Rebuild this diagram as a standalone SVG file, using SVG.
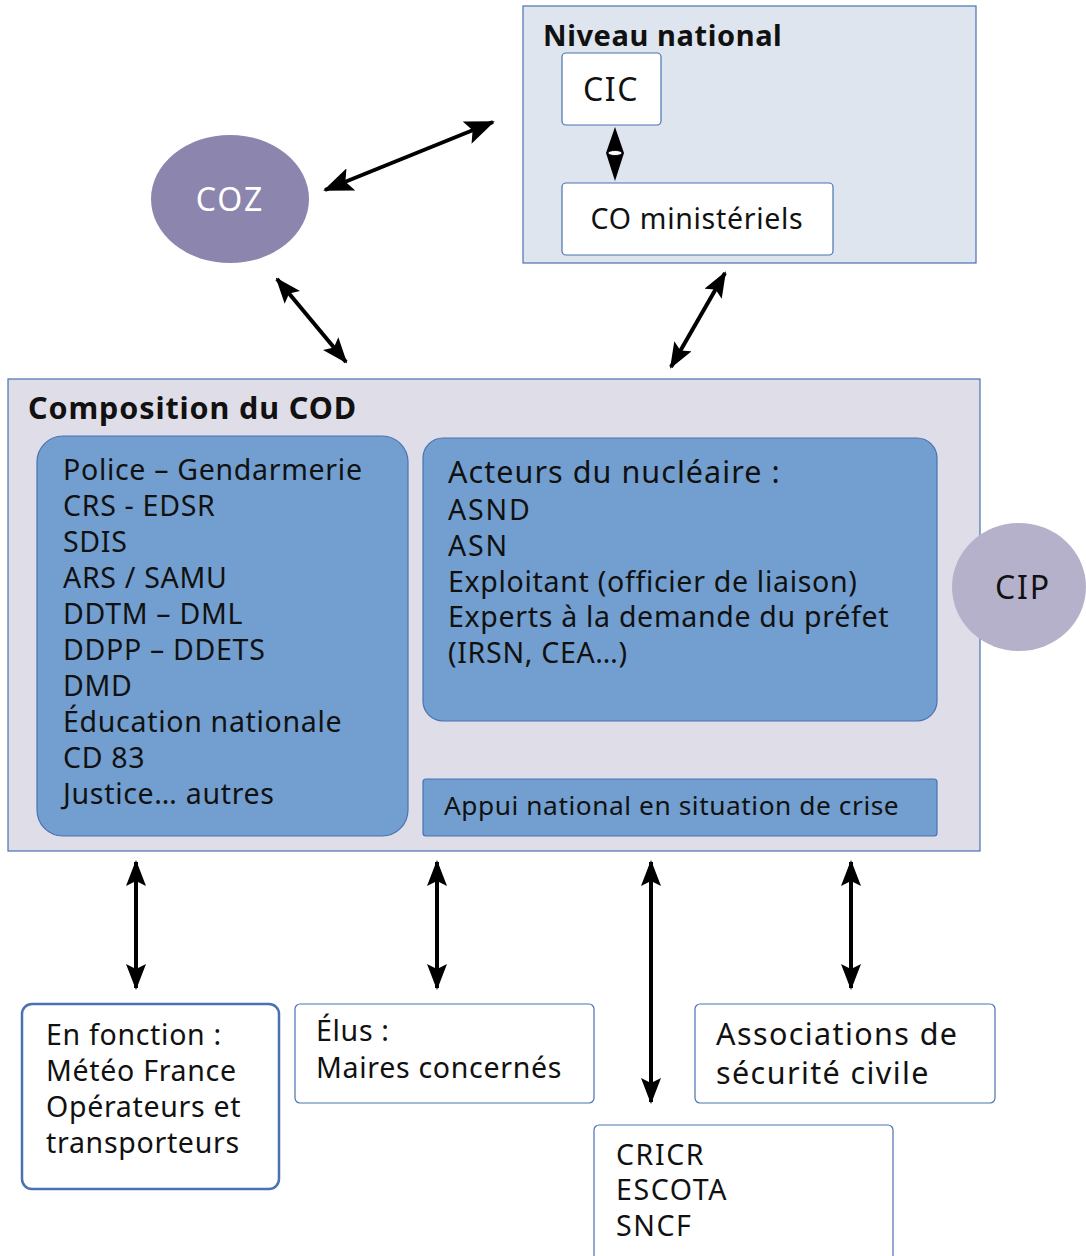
<svg xmlns="http://www.w3.org/2000/svg" width="1086" height="1256" viewBox="0 0 1086 1256">
  <style>
    text { font-family: "Noto Sans", "Open Sans", "Liberation Sans", sans-serif; fill: #111; }
    .title { font-weight: bold; font-size: 29px; letter-spacing: 0.6px; }
    .marianne { font-size: 28.5px; letter-spacing: 0.7px; }
    .white { fill: #ffffff; stroke: #4a72b0; stroke-width: 1.2; }
    .blue { fill: #729fcf; stroke: #4a72b0; stroke-width: 1.2; }
    .link { stroke: #000; stroke-width: 4; fill: none; marker-start: url(#head); marker-end: url(#head); }
  </style>
  <defs>
    <marker id="head" viewBox="0 0 26 20" refX="24" refY="10" markerWidth="26" markerHeight="20" markerUnits="userSpaceOnUse" orient="auto-start-reverse">
      <path d="M0,0 L26,10 L0,20 L5,10 Z" fill="#000"/>
    </marker>
    <marker id="headBig" viewBox="0 0 30 24" refX="28" refY="12" markerWidth="30" markerHeight="24" markerUnits="userSpaceOnUse" orient="auto-start-reverse">
      <path d="M0,0 L30,12 L0,24 L6,12 Z" fill="#000"/>
    </marker>
  </defs>

  <!-- National level -->
  <g id="niveau-national">
    <rect x="523" y="6" width="453" height="257" fill="#dfe5ef" stroke="#4a72b0" stroke-width="1.2"/>
    <text class="title" x="543" y="46">Niveau national</text>
  </g>
  <g id="cic">
    <rect class="white" x="562" y="53" width="99" height="72" rx="4"/>
    <text x="611" y="101" style="font-size:32px;letter-spacing:1.5px" text-anchor="middle">CIC</text>
  </g>
  <g id="co-ministeriels">
    <rect class="white" x="562" y="183" width="271" height="72" rx="4"/>
    <text class="marianne" x="697" y="229" text-anchor="middle">CO ministériels</text>
  </g>

  <!-- COZ -->
  <g id="coz">
    <ellipse cx="230" cy="199" rx="79" ry="64" fill="#8c85ad"/>
    <text x="230" y="211" style="font-size:32px;letter-spacing:2px;fill:#ffffff" text-anchor="middle">COZ</text>
  </g>

  <!-- COD -->
  <g id="cod">
    <rect x="8" y="379" width="972" height="472" fill="#dfdde8" stroke="#4a72b0" stroke-width="1.2"/>
    <text class="title" x="28" y="419" style="font-size:30.5px;letter-spacing:0.9px">Composition du COD</text>
  </g>
  <g id="services">
    <rect class="blue" x="37" y="436" width="371" height="400" rx="26"/>
    <text class="marianne" x="63" y="480">Police – Gendarmerie</text>
    <text class="marianne" x="63" y="516">CRS - EDSR</text>
    <text class="marianne" x="63" y="552">SDIS</text>
    <text class="marianne" x="63" y="588">ARS / SAMU</text>
    <text class="marianne" x="63" y="624">DDTM – DML</text>
    <text class="marianne" x="63" y="660">DDPP – DDETS</text>
    <text class="marianne" x="63" y="696">DMD</text>
    <text class="marianne" x="63" y="732">Éducation nationale</text>
    <text class="marianne" x="63" y="768">CD 83</text>
    <text class="marianne" x="63" y="804">Justice… autres</text>
  </g>
  <g id="nucleaire">
    <rect class="blue" x="423" y="438" width="514" height="283" rx="20"/>
    <text class="marianne" x="448" y="483" style="font-size:30.5px;letter-spacing:1.05px">Acteurs du nucléaire :</text>
    <text class="marianne" x="448" y="520" style="letter-spacing:1.8px">ASND</text>
    <text class="marianne" x="448" y="556" style="letter-spacing:1.8px">ASN</text>
    <text class="marianne" x="448" y="592">Exploitant (officier de liaison)</text>
    <text class="marianne" x="448" y="627">Experts à la demande du préfet</text>
    <text class="marianne" x="448" y="663">(IRSN, CEA…)</text>
  </g>
  <g id="appui">
    <rect class="blue" x="423" y="779" width="514" height="57" rx="3"/>
    <text class="marianne" x="444" y="815" style="font-size:26.3px;letter-spacing:0.55px">Appui national en situation de crise</text>
  </g>
  <g id="cip">
    <ellipse cx="1019" cy="587" rx="67" ry="64" fill="#b6b1cb"/>
    <text class="marianne" x="1023" y="599" style="font-size:32px;letter-spacing:1.8px" text-anchor="middle">CIP</text>
  </g>

  <!-- Partners -->
  <g id="en-fonction">
    <rect x="22" y="1004" width="257" height="185" rx="10" fill="#fff" stroke="#4a72b0" stroke-width="2.5"/>
    <text class="marianne" x="46" y="1045">En fonction :</text>
    <text class="marianne" x="46" y="1081">Météo France</text>
    <text class="marianne" x="46" y="1117">Opérateurs et</text>
    <text class="marianne" x="46" y="1153">transporteurs</text>
  </g>
  <g id="elus">
    <rect class="white" x="295" y="1004" width="299" height="99" rx="5"/>
    <text class="marianne" x="316" y="1041">Élus :</text>
    <text class="marianne" x="316" y="1078">Maires concernés</text>
  </g>
  <g id="associations">
    <rect class="white" x="695" y="1004" width="300" height="99" rx="5"/>
    <text class="marianne" x="716" y="1045" style="font-size:30.5px;letter-spacing:1.4px">Associations de</text>
    <text class="marianne" x="716" y="1084" style="font-size:30.5px;letter-spacing:1.4px">sécurité civile</text>
  </g>
  <g id="transport">
    <rect class="white" x="594" y="1125" width="299" height="140" rx="5"/>
    <text class="marianne" x="616" y="1165" style="letter-spacing:1.6px">CRICR</text>
    <text class="marianne" x="616" y="1200" style="letter-spacing:1.6px">ESCOTA</text>
    <text class="marianne" x="616" y="1236" style="letter-spacing:1.6px">SNCF</text>
  </g>

  <!-- Connectors -->
  <g id="connectors">
    <path d="M615,127 L624,153 L615,181 L606,153 Z" fill="#000"/>
    <ellipse cx="615" cy="153" rx="7" ry="2.5" fill="#fff" stroke="#000" stroke-width="0.8"/>
    <line class="link" x1="325" y1="190" x2="493" y2="122" style="marker-start:url(#headBig);marker-end:url(#headBig)"/>
    <line class="link" x1="277" y1="279" x2="346" y2="362"/>
    <line class="link" x1="725" y1="273" x2="671" y2="367"/>
    <line class="link" x1="136" y1="862" x2="136" y2="988"/>
    <line class="link" x1="437" y1="862" x2="437" y2="988"/>
    <line class="link" x1="651" y1="862" x2="651" y2="1102"/>
    <line class="link" x1="851" y1="862" x2="851" y2="988"/>
  </g>
</svg>
